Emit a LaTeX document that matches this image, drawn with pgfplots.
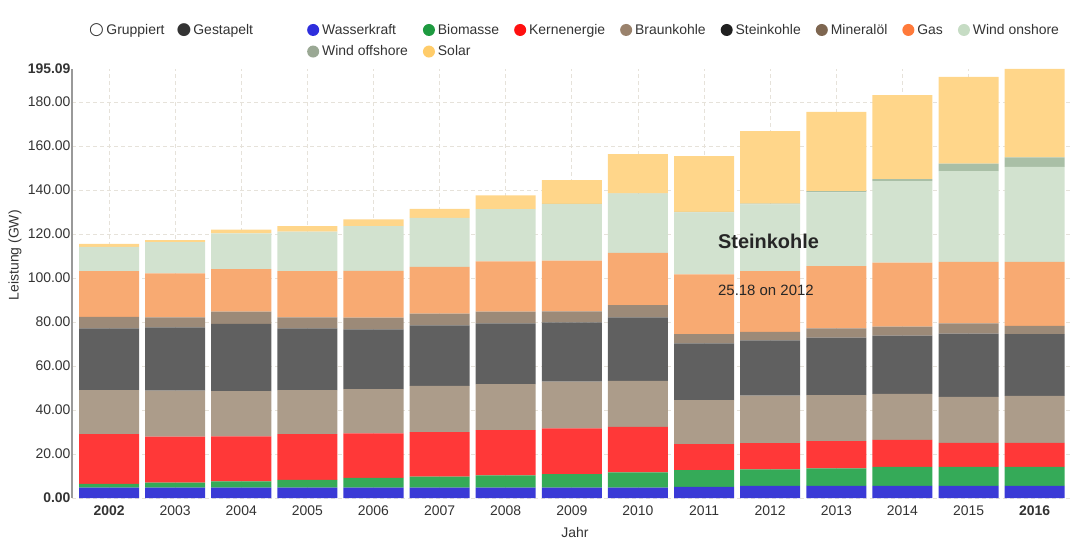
\documentclass[border=0pt]{standalone}
\usepackage{pgfplots}
\usepackage{pgfplotstable}
\pgfplotsset{compat=1.18}
\usepackage{fontspec}
\setmainfont{Liberation Sans}
\newfontfamily\dejavu{DejaVu Sans}

\definecolor{cW}{HTML}{3A3AD6}
\definecolor{cB}{HTML}{35AA58}
\definecolor{cK}{HTML}{FF3838}
\definecolor{cBr}{HTML}{AC9C8A}
\definecolor{cSt}{HTML}{606060}
\definecolor{cM}{HTML}{9C8A78}
\definecolor{cG}{HTML}{F8AA72}
\definecolor{cWOn}{HTML}{D2E2CF}
\definecolor{cWOff}{HTML}{A9BFA6}
\definecolor{cS}{HTML}{FFD68A}
\definecolor{lW}{HTML}{2E2EDD}
\definecolor{lB}{HTML}{1E9A40}
\definecolor{lK}{HTML}{FF1010}
\definecolor{lBr}{HTML}{9A826C}
\definecolor{lSt}{HTML}{202020}
\definecolor{lM}{HTML}{7E6650}
\definecolor{lG}{HTML}{FF7A3A}
\definecolor{lWOn}{HTML}{C6DCC4}
\definecolor{lWOff}{HTML}{9AA894}
\definecolor{lS}{HTML}{FFCC6A}
\definecolor{gridc}{HTML}{E6E2DA}
\definecolor{txt}{HTML}{333333}

\pgfplotstableread{
x  W   B   K     Br    St     M   G     WOn   WOff S
0  4.7 1.7 22.6  20.1  28.0   5.3 20.8  11.0  0.0  1.4
1  4.7 2.3 20.9  20.9  28.8   4.5 20.0  14.3  0.0  0.9
2  4.7 2.9 20.4  20.6  30.6   5.5 19.4  16.2  0.0  1.8
3  4.7 3.5 20.8  20.1  28.0   5.0 21.1  17.9  0.0  2.5
4  4.7 4.5 20.2  20.1  27.2   5.3 21.3  20.3  0.0  3.1
5  4.7 5.0 20.3  21.0  27.5   5.3 21.3  22.3  0.0  4.1
6  4.7 5.6 20.6  20.9  27.6   5.3 22.9  23.8  0.0  6.2
7  4.7 6.2 20.8  21.2  27.0   5.0 23.0  25.7  0.1  10.8
8  4.7 7.0 20.6  21.0  28.8   5.6 23.8  26.9  0.1  17.9
9  5.1 7.6 11.8  20.0  25.8   4.2 27.2  28.2  0.2  25.4
10 5.5 7.5 11.9  21.6  25.18  3.9 27.6  30.4  0.3  32.9
11 5.5 8.0 12.4  20.9  26.1   4.2 28.4  33.5  0.5  36.1
12 5.5 8.7 12.2  21.0  26.4   4.1 29.1  37.1  0.9  38.2
13 5.5 8.7 10.9  20.9  28.8   4.6 28.0  41.2  3.5  39.4
14 5.5 8.7 10.9  21.3  28.1   3.8 29.1  43.2  4.3  40.19
}\datatable

\begin{document}
\begin{tikzpicture}
\path[use as bounding box] (-72bp,-43bp) rectangle (999bp,498bp);
\begin{axis}[
  width=999bp, height=429bp, scale only axis,
  ybar stacked, bar width=0.908,
  xmin=-0.56, xmax=14.55, ymin=0, ymax=195.09,
  xtick={0,...,14},
  xticklabels={\textbf{2002},2003,2004,2005,2006,2007,2008,2009,2010,2011,2012,2013,2014,2015,\textbf{2016}},
  ytick={0,20,...,180},
  yticklabels={\textbf{0.00},20.00,40.00,60.00,80.00,100.00,120.00,140.00,160.00,180.00},
  extra y ticks={195.09},
  extra y tick labels={\textbf{195.09}},
  extra y tick style={grid=none},
  grid=major,
  grid style={dash pattern=on 4bp off 3bp, color=gridc, line width=0.8bp},
  axis lines*=left,
  x axis line style={draw=none},
  y axis line style={draw=black!40, line width=1.2bp},
  major tick length=0pt,
  /pgf/number format/assume math mode=true,
  tick label style={font=\fontsize{14}{16}\selectfont, text=txt},
  xticklabel style={yshift=-4bp},
  yticklabel style={xshift=2bp},
  xlabel={Jahr},
  ylabel={Leistung (GW)},
  label style={font=\fontsize{14}{16}\selectfont, text=txt},
  xlabel style={at={(axis description cs:0.5035,-0.0816)}, anchor=center},
  ylabel style={at={(axis description cs:-0.057,0.566)}, anchor=center},
  legend columns=8,
  legend cell align=left,
  legend style={at={(axis description cs:0.2352,1.1096)}, anchor=north west,
    draw=none, fill=none, inner sep=0pt,
    font=\fontsize{14}{16}\selectfont, text=txt,
    /tikz/every odd column/.append style={column sep=1bp},
    /tikz/every even column/.append style={column sep=13bp},
    row sep=6bp},
]
\addplot[fill=cW, draw=none, legend image code/.code={\fill[lW] (0bp,0bp) circle (6bp);}] table[x=x,y=W] {\datatable};
\addlegendentry{Wasserkraft}
\addplot[fill=cB, draw=none, legend image code/.code={\fill[lB] (0bp,0bp) circle (6bp);}] table[x=x,y=B] {\datatable};
\addlegendentry{Biomasse}
\addplot[fill=cK, draw=none, legend image code/.code={\fill[lK] (0bp,0bp) circle (6bp);}] table[x=x,y=K] {\datatable};
\addlegendentry{Kernenergie}
\addplot[fill=cBr, draw=none, legend image code/.code={\fill[lBr] (0bp,0bp) circle (6bp);}] table[x=x,y=Br] {\datatable};
\addlegendentry{Braunkohle}
\addplot[fill=cSt, draw=none, legend image code/.code={\fill[lSt] (0bp,0bp) circle (6bp);}] table[x=x,y=St] {\datatable};
\addlegendentry{Steinkohle}
\addplot[fill=cM, draw=none, legend image code/.code={\fill[lM] (0bp,0bp) circle (6bp);}] table[x=x,y=M] {\datatable};
\addlegendentry{Mineralöl}
\addplot[fill=cG, draw=none, legend image code/.code={\fill[lG] (0bp,0bp) circle (6bp);}] table[x=x,y=G] {\datatable};
\addlegendentry{Gas}
\addplot[fill=cWOn, draw=none, legend image code/.code={\fill[lWOn] (0bp,0bp) circle (6bp);}] table[x=x,y=WOn] {\datatable};
\addlegendentry{Wind onshore}
\addplot[fill=cWOff, draw=none, legend image code/.code={\fill[lWOff] (0bp,0bp) circle (6bp);}] table[x=x,y=WOff] {\datatable};
\addlegendentry{Wind offshore}
\addplot[fill=cS, draw=none, legend image code/.code={\fill[lS] (0bp,0bp) circle (6bp);}] table[x=x,y=S] {\datatable};
\addlegendentry{Solar}
\coordinate (ann1) at (axis cs:9.21,116.8);
\coordinate (ann2) at (axis cs:9.21,94.5);
\end{axis}
\node[anchor=west, inner sep=0pt, font=\bfseries\fontsize{20}{24}\selectfont, text=black!85] at (ann1) {Steinkohle};
\node[anchor=west, inner sep=0pt, font=\fontsize{15}{17}\selectfont, text=black!85] at (ann2) {25.18 on 2012};
\node[anchor=west, inner sep=0pt, font=\fontsize{14}{16}\selectfont, text=txt] at (17bp,468bp)
  {{\dejavu\fontsize{17}{17}\selectfont ○}\kern2.5bp Gruppiert\hspace{12bp}{\dejavu\fontsize{17}{17}\selectfont ●}\kern2bp Gestapelt};
\end{tikzpicture}
\end{document}
